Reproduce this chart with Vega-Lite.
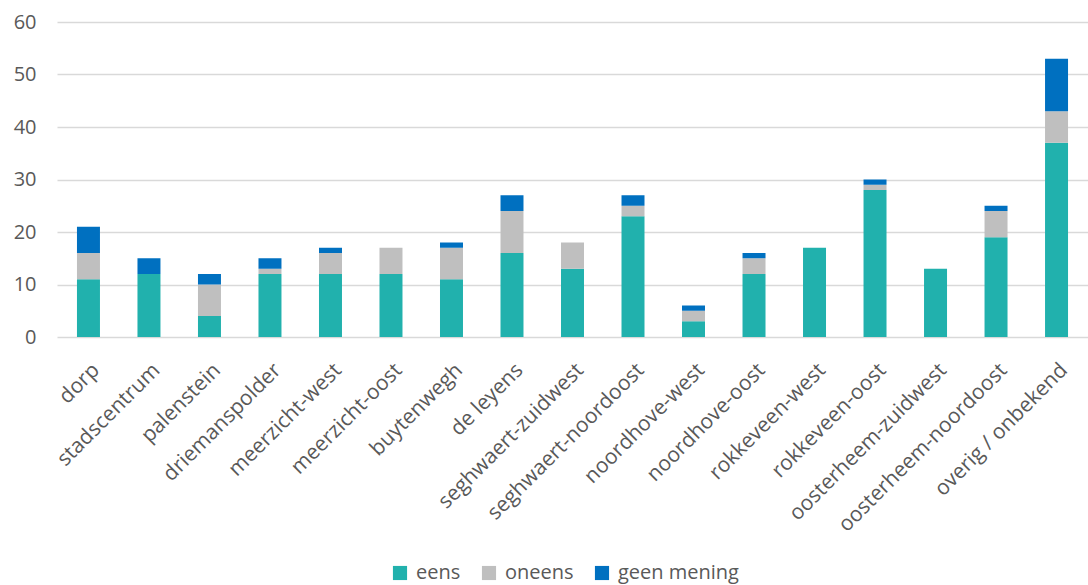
{
  "$schema": "https://vega.github.io/schema/vega-lite/v6.json",
  "width": 1031,
  "height": 315,
  "autosize": {"type": "none"},
  "padding": {"left": 57, "top": 22, "right": 0, "bottom": 248},
  "background": "#ffffff",
  "config": {
    "view": {"stroke": null},
    "font": "Open Sans"
  },
  "data": {
    "values": [
      {"wijk": "dorp", "antwoord": "eens", "n": 11, "o": 1},
      {"wijk": "dorp", "antwoord": "oneens", "n": 5, "o": 2},
      {"wijk": "dorp", "antwoord": "geen mening", "n": 5, "o": 3},
      {"wijk": "stadscentrum", "antwoord": "eens", "n": 12, "o": 1},
      {"wijk": "stadscentrum", "antwoord": "oneens", "n": 0, "o": 2},
      {"wijk": "stadscentrum", "antwoord": "geen mening", "n": 3, "o": 3},
      {"wijk": "palenstein", "antwoord": "eens", "n": 4, "o": 1},
      {"wijk": "palenstein", "antwoord": "oneens", "n": 6, "o": 2},
      {"wijk": "palenstein", "antwoord": "geen mening", "n": 2, "o": 3},
      {"wijk": "driemanspolder", "antwoord": "eens", "n": 12, "o": 1},
      {"wijk": "driemanspolder", "antwoord": "oneens", "n": 1, "o": 2},
      {"wijk": "driemanspolder", "antwoord": "geen mening", "n": 2, "o": 3},
      {"wijk": "meerzicht-west", "antwoord": "eens", "n": 12, "o": 1},
      {"wijk": "meerzicht-west", "antwoord": "oneens", "n": 4, "o": 2},
      {"wijk": "meerzicht-west", "antwoord": "geen mening", "n": 1, "o": 3},
      {"wijk": "meerzicht-oost", "antwoord": "eens", "n": 12, "o": 1},
      {"wijk": "meerzicht-oost", "antwoord": "oneens", "n": 5, "o": 2},
      {"wijk": "meerzicht-oost", "antwoord": "geen mening", "n": 0, "o": 3},
      {"wijk": "buytenwegh", "antwoord": "eens", "n": 11, "o": 1},
      {"wijk": "buytenwegh", "antwoord": "oneens", "n": 6, "o": 2},
      {"wijk": "buytenwegh", "antwoord": "geen mening", "n": 1, "o": 3},
      {"wijk": "de leyens", "antwoord": "eens", "n": 16, "o": 1},
      {"wijk": "de leyens", "antwoord": "oneens", "n": 8, "o": 2},
      {"wijk": "de leyens", "antwoord": "geen mening", "n": 3, "o": 3},
      {"wijk": "seghwaert-zuidwest", "antwoord": "eens", "n": 13, "o": 1},
      {"wijk": "seghwaert-zuidwest", "antwoord": "oneens", "n": 5, "o": 2},
      {"wijk": "seghwaert-zuidwest", "antwoord": "geen mening", "n": 0, "o": 3},
      {"wijk": "seghwaert-noordoost", "antwoord": "eens", "n": 23, "o": 1},
      {"wijk": "seghwaert-noordoost", "antwoord": "oneens", "n": 2, "o": 2},
      {"wijk": "seghwaert-noordoost", "antwoord": "geen mening", "n": 2, "o": 3},
      {"wijk": "noordhove-west", "antwoord": "eens", "n": 3, "o": 1},
      {"wijk": "noordhove-west", "antwoord": "oneens", "n": 2, "o": 2},
      {"wijk": "noordhove-west", "antwoord": "geen mening", "n": 1, "o": 3},
      {"wijk": "noordhove-oost", "antwoord": "eens", "n": 12, "o": 1},
      {"wijk": "noordhove-oost", "antwoord": "oneens", "n": 3, "o": 2},
      {"wijk": "noordhove-oost", "antwoord": "geen mening", "n": 1, "o": 3},
      {"wijk": "rokkeveen-west", "antwoord": "eens", "n": 17, "o": 1},
      {"wijk": "rokkeveen-west", "antwoord": "oneens", "n": 0, "o": 2},
      {"wijk": "rokkeveen-west", "antwoord": "geen mening", "n": 0, "o": 3},
      {"wijk": "rokkeveen-oost", "antwoord": "eens", "n": 28, "o": 1},
      {"wijk": "rokkeveen-oost", "antwoord": "oneens", "n": 1, "o": 2},
      {"wijk": "rokkeveen-oost", "antwoord": "geen mening", "n": 1, "o": 3},
      {"wijk": "oosterheem-zuidwest", "antwoord": "eens", "n": 13, "o": 1},
      {"wijk": "oosterheem-zuidwest", "antwoord": "oneens", "n": 0, "o": 2},
      {"wijk": "oosterheem-zuidwest", "antwoord": "geen mening", "n": 0, "o": 3},
      {"wijk": "oosterheem-noordoost", "antwoord": "eens", "n": 19, "o": 1},
      {"wijk": "oosterheem-noordoost", "antwoord": "oneens", "n": 5, "o": 2},
      {"wijk": "oosterheem-noordoost", "antwoord": "geen mening", "n": 1, "o": 3},
      {"wijk": "overig / onbekend", "antwoord": "eens", "n": 37, "o": 1},
      {"wijk": "overig / onbekend", "antwoord": "oneens", "n": 6, "o": 2},
      {"wijk": "overig / onbekend", "antwoord": "geen mening", "n": 10, "o": 3}
    ]
  },
  "mark": {"type": "bar"},
  "encoding": {
    "x": {
      "field": "wijk",
      "type": "nominal",
      "sort": null,
      "scale": {"paddingInner": 0.62, "paddingOuter": 0.33},
      "axis": {
        "title": null,
        "labelAngle": -45,
        "labelFontSize": 21,
        "labelColor": "#595959",
        "labelPadding": 22,
        "labelDx": 6,
        "labelDy": 12,
        "labelLimit": 400,
        "labelOverlap": false,
        "ticks": false,
        "domain": false,
        "grid": false
      }
    },
    "y": {
      "field": "n",
      "type": "quantitative",
      "stack": "zero",
      "scale": {"domain": [0, 60]},
      "axis": {
        "title": null,
        "values": [0, 10, 20, 30, 40, 50, 60],
        "labelFontSize": 20,
        "labelColor": "#595959",
        "labelPadding": 21,
        "ticks": false,
        "domain": false,
        "gridColor": "#d9d9d9",
        "gridWidth": 1.5
      }
    },
    "color": {
      "field": "antwoord",
      "type": "nominal",
      "scale": {
        "domain": ["eens", "oneens", "geen mening"],
        "range": ["#21b1ad", "#bfbfbf", "#0070c0"]
      },
      "legend": {
        "title": null,
        "orient": "none",
        "direction": "horizontal",
        "legendX": 333,
        "legendY": 541,
        "symbolType": "square",
        "symbolSize": 200,
        "symbolStrokeWidth": 0,
        "symbolOpacity": 1,
        "labelFontSize": 20,
        "labelColor": "#595959",
        "columnPadding": 18,
        "labelOffset": 6
      }
    },
    "order": {"field": "o", "type": "quantitative"}
  }
}
